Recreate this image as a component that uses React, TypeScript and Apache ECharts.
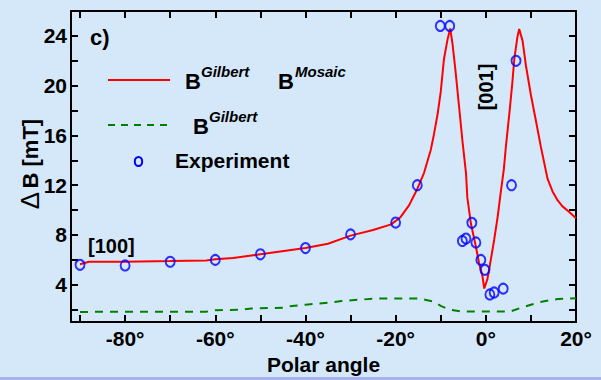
import React, { useEffect, useRef } from "react";
import * as echarts from "echarts";

// ---- data ----
const mosaicAngles = [
  -90, -88, -80, -70, -62, -60, -56, -52, -50, -46, -44, -40, -35, -30, -25, -21, -19, -17,
  -15.2, -13.7, -12.2, -11.5, -10.7, -10, -9.3, -8.5, -7.9, -7.4, -6.7, -5.9, -5.2, -4.4,
  -4.1, -3.3, -2.2, -1.5, -0.75, -0.35, 0.35, 1.1, 1.85, 2.6, 3.3, 4.0, 4.45, 5.2, 5.9, 6.3,
  7.0, 7.4, 8.15, 8.9, 10, 11.1, 12.2, 13.7, 14.8, 15.9, 17, 18.5, 20,
];
const mosaicValues = [
  5.65, 5.85, 5.85, 5.9, 5.95, 6.05, 6.15, 6.35, 6.45, 6.65, 6.75, 6.95, 7.3, 7.95, 8.4, 8.85, 9.4, 10.4,
  11.7, 13.0, 14.85, 16.1, 17.7, 19.5, 22.1, 23.7, 24.6, 23.4, 21.1, 18.2, 15.6, 13.0,
  11.0, 8.9, 7.05, 5.75, 4.7, 3.7, 4.45, 6.0, 7.6, 9.4, 11.4, 13.3, 15.1, 17.7, 20.3, 22.1,
  23.9, 24.55, 23.6, 21.6, 19.25, 17.2, 15.1, 12.5, 11.5, 10.8, 10.3, 9.85, 9.35,
];

const gilbertAngles = [
  -90, -62, -60, -54, -52, -45, -43, -40, -35, -32, -28, -24, -15, -13.5, -11.5, -10, -8, -5.5,
  5.5, 7.8, 10, 12, 14, 16, 20,
];
const gilbertValues = [
  1.82, 1.84, 1.95, 2.0, 2.1, 2.15, 2.3, 2.4, 2.55, 2.7, 2.8, 2.9, 2.9, 2.8, 2.65, 2.3, 2.0, 1.86,
  1.86, 2.15, 2.4, 2.6, 2.75, 2.85, 2.92,
];

const expAngles = [
  -90, -80, -70, -60, -50, -40, -30, -20, -15.2, -10.1, -8.0, -5.2, -4.4, -3.1, -2.2, -1.1,
  -0.2, 0.9, 1.85, 3.85, 5.7, 6.7,
];
const expValues = [
  5.6, 5.55, 5.85, 6.0, 6.45, 6.95, 8.05, 9.0, 12.0, 24.8, 24.8, 7.52, 7.71, 8.98, 7.4, 6.0,
  5.2, 3.22, 3.38, 3.69, 12.0, 22.0,
];

const xTickLabels = [-80, -60, -40, -20, 0, 20];
const yTickLabels = [4, 8, 12, 16, 20, 24];

const FONT = "'Liberation Sans', Arial, Helvetica, sans-serif";

const zip = (xs: number[], ys: number[]) => xs.map((x, i) => [x, ys[i]]);

export default function App() {
  const ref = useRef<HTMLDivElement>(null);

  useEffect(() => {
    if (!ref.current) return;
    const chart = echarts.init(ref.current, undefined, { renderer: "svg" });

    const axisCommonX = {
      type: "value" as const,
      min: -92,
      max: 20,
      minInterval: 10,
      maxInterval: 10,
      splitNumber: 11,
      splitLine: { show: false },
      axisLine: { show: true, onZero: false, lineStyle: { color: "#000", width: 2 } },
      axisTick: { show: true, inside: true, length: 7, lineStyle: { color: "#000", width: 2 } },
    };
    const axisCommonY = {
      type: "value" as const,
      min: 1,
      max: 26,
      minInterval: 2,
      maxInterval: 2,
      splitNumber: 13,
      splitLine: { show: false },
      axisLine: { show: true, onZero: false, lineStyle: { color: "#000", width: 2 } },
      axisTick: { show: true, inside: true, length: 7, lineStyle: { color: "#000", width: 2 } },
    };

    chart.setOption({
      animation: false,
      backgroundColor: "#d5e8fa",
      grid: { left: 71, top: 11, width: 505, height: 320, containLabel: false },
      xAxis: [
        {
          ...axisCommonX,
          position: "bottom",
          name: "Polar angle",
          nameLocation: "middle",
          nameGap: 26,
          nameTextStyle: { fontFamily: FONT, fontWeight: "bold", fontSize: 21, color: "#000" },
          axisLabel: {
            show: true,
            margin: 6,
            showMinLabel: true,
            showMaxLabel: true,
            hideOverlap: false,
            fontFamily: FONT,
            fontWeight: "bold",
            fontSize: 21,
            color: "#000",
            formatter: (v: number) => (xTickLabels.includes(v) ? `${v}°` : ""),
          },
        },
        { ...axisCommonX, position: "top", axisLabel: { show: false } },
      ],
      yAxis: [
        {
          ...axisCommonY,
          position: "left",
          axisLabel: {
            show: true,
            margin: 4,
            showMinLabel: true,
            showMaxLabel: true,
            hideOverlap: false,
            fontFamily: FONT,
            fontWeight: "bold",
            fontSize: 21,
            color: "#000",
            formatter: (v: number) => (yTickLabels.includes(v) ? String(v) : ""),
          },
        },
        { ...axisCommonY, position: "right", axisLabel: { show: false } },
      ],
      series: [
        {
          name: "B Gilbert Mosaic",
          type: "line",
          data: zip(mosaicAngles, mosaicValues),
          showSymbol: false,
          symbol: "none",
          lineStyle: { color: "#ff0000", width: 2 },
          z: 2,
        },
        {
          name: "B Gilbert",
          type: "line",
          data: zip(gilbertAngles, gilbertValues),
          showSymbol: false,
          symbol: "none",
          lineStyle: { color: "#008000", width: 2, type: [8, 7] },
          z: 2,
        },
        {
          name: "Experiment",
          type: "scatter",
          data: zip(expAngles, expValues),
          symbol: "circle",
          symbolSize: [9, 10],
          itemStyle: { color: "rgba(0,0,0,0)", borderColor: "#0000ff", borderWidth: 2 },
          z: 3,
        },
      ],
      graphic: [
        // legend
        { type: "line", shape: { x1: 108, y1: 80, x2: 170, y2: 80 }, style: { stroke: "#ff0000", lineWidth: 2 }, z: 10 },
        { type: "text", x: 185, y: 81, style: { text: "B", font: `bold 22px ${FONT}`, fill: "#000", textAlign: "left", textVerticalAlign: "middle" }, z: 10 },
        { type: "text", x: 201, y: 71, style: { text: "Gilbert", font: `italic bold 15px ${FONT}`, fill: "#000", textAlign: "left", textVerticalAlign: "middle" }, z: 10 },
        { type: "text", x: 278, y: 81, style: { text: "B", font: `bold 22px ${FONT}`, fill: "#000", textAlign: "left", textVerticalAlign: "middle" }, z: 10 },
        { type: "text", x: 295, y: 71, style: { text: "Mosaic", font: `italic bold 15px ${FONT}`, fill: "#000", textAlign: "left", textVerticalAlign: "middle" }, z: 10 },

        { type: "line", shape: { x1: 108, y1: 125, x2: 167, y2: 125 }, style: { stroke: "#008000", lineWidth: 2, lineDash: [7, 6] }, z: 10 },
        { type: "text", x: 193, y: 126, style: { text: "B", font: `bold 22px ${FONT}`, fill: "#000", textAlign: "left", textVerticalAlign: "middle" }, z: 10 },
        { type: "text", x: 209, y: 116, style: { text: "Gilbert", font: `italic bold 15px ${FONT}`, fill: "#000", textAlign: "left", textVerticalAlign: "middle" }, z: 10 },

        { type: "ellipse", shape: { cx: 138.5, cy: 161.5, rx: 3.7, ry: 4.6 }, style: { fill: "none", stroke: "#0000ff", lineWidth: 2 }, z: 10 },
        { type: "text", x: 175, y: 160, style: { text: "Experiment", font: `bold 21px ${FONT}`, fill: "#000", textAlign: "left", textVerticalAlign: "middle" }, z: 10 },

        // annotations
        { type: "text", x: 90, y: 37, style: { text: "c)", font: `bold 22px ${FONT}`, fill: "#000", textAlign: "left", textVerticalAlign: "middle" }, z: 10 },
        { type: "text", x: 88, y: 246, style: { text: "[100]", font: `bold 20px ${FONT}`, fill: "#000", textAlign: "left", textVerticalAlign: "middle" }, z: 10 },
        { type: "text", x: 486, y: 87, rotation: Math.PI / 2, style: { text: "[001]", font: `bold 20px ${FONT}`, fill: "#000", textAlign: "center", textVerticalAlign: "middle" }, z: 10 },

        // y axis title
        {
          type: "text",
          x: 30,
          y: 164,
          rotation: Math.PI / 2,
          style: {
            text: "{d|Δ} {t|B [mT]}",
            textAlign: "center",
            textVerticalAlign: "middle",
            fill: "#000",
            rich: {
              d: { fontFamily: FONT, fontWeight: "normal", fontSize: 26, fill: "#000" },
              t: { fontFamily: FONT, fontWeight: "bold", fontSize: 22, fill: "#000" },
            },
          },
          z: 10,
        },

        // bottom border strip
        { type: "rect", shape: { x: 0, y: 377, width: 601, height: 3 }, style: { fill: "#a9b2ea" }, z: 0 },
      ],
    });

    return () => chart.dispose();
  }, []);

  return (
    <div
      ref={ref}
      style={{ position: "absolute", left: 0, top: 0, width: 601, height: 380 }}
    />
  );
}
